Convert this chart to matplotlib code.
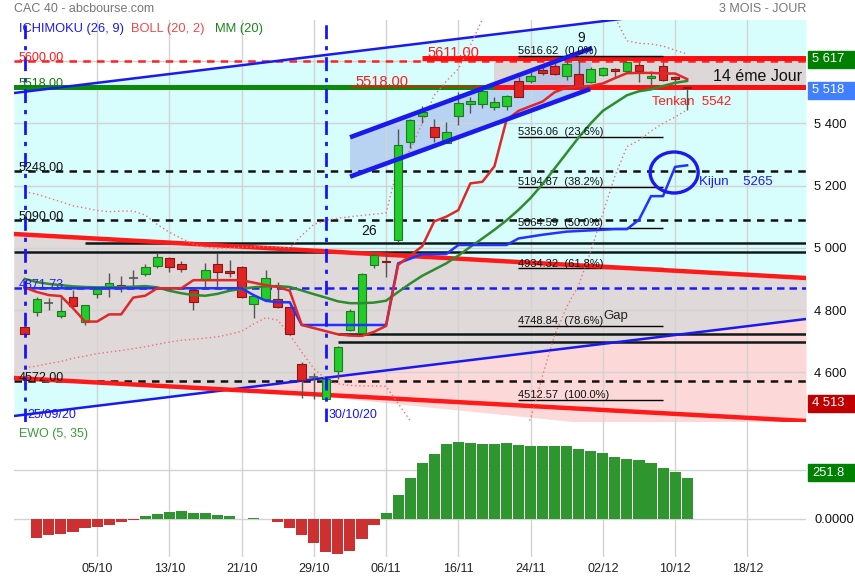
import numpy as np
import matplotlib
matplotlib.use("Agg")
import matplotlib.pyplot as plt
from matplotlib.patches import Ellipse, Rectangle

plt.rcParams['font.family'] = ['Liberation Sans', 'DejaVu Sans']

# ---------------- data ----------------
opens = [4745, 4795, 4823, 4782, 4841, 4761, 4852, 4873, 4880, 4902,
         4916, 4942, 4967, 4948, 4864, 4899, 4947, 4924, 4937, 4820,
         4834, 4834, 4809, 4626, 4585, 4515, 4605, 4735, 4727, 4945,
         4956, 5025, 5341, 5424, 5387, 5338, 5424, 5461, 5461, 5451,
         5456, 5536, 5537, 5571, 5584, 5552, 5557, 5534, 5555, 5574,
         5568, 5587, 5545, 5584, 5550, 5518]
highs = [4748, 4843, 4840, 4843, 4864, 4815, 4875, 4918, 4909, 4929,
         4948, 4984, 4970, 4958, 4875, 4950, 4984, 4961, 4940, 4847,
         4929, 4889, 4812, 4634, 4597, 4580, 4684, 4802, 4920, 4982,
         4982, 5381, 5414, 5456, 5414, 5403, 5502, 5486, 5510, 5486,
         5490, 5550, 5566, 5582, 5593, 5603, 5616.62, 5580, 5582, 5579,
         5598, 5596, 5568, 5596, 5553, 5520]
lows = [4720, 4782, 4800, 4775, 4812, 4752, 4838, 4843, 4859, 4872,
        4909, 4936, 4923, 4923, 4800, 4875, 4875, 4907, 4840, 4775,
        4832, 4806, 4720, 4516, 4513, 4512.57, 4578, 4733, 4725, 4934,
        4907, 5018, 5322, 5400, 5341, 5336, 5395, 5434, 5448, 5443,
        5443, 5484, 5529, 5555, 5555, 5539, 5515, 5530, 5552, 5550,
        5565, 5532, 5518, 5535, 5518, 5442]
closes = [4722, 4835, 4823, 4796, 4814, 4815, 4868, 4886, 4872, 4902,
          4937, 4970, 4939, 4933, 4827, 4928, 4921, 4920, 4843, 4845,
          4902, 4809, 4722, 4575, 4585, 4578, 4682, 4796, 4916, 4977,
          4954, 5330, 5411, 5437, 5355, 5371, 5464, 5473, 5504, 5468,
          5488, 5486, 5552, 5563, 5557, 5591, 5518, 5574, 5577, 5568,
          5596, 5568, 5553, 5539, 5541, 5515]

tenkan = [4872, 4858, 4848, 4845, 4806, 4763, 4763, 4786, 4786, 4840,
          4846, 4870, 4870, 4870, 4896, 4896, 4896, 4896, 4896, 4888,
          4880, 4874, 4862, 4752, 4742, 4732, 4722, 4718, 4717, 4730,
          4749, 4945, 4975, 5005, 5085, 5100, 5121, 5207, 5212, 5262,
          5411, 5440, 5455, 5470, 5500, 5515, 5518, 5520, 5528, 5545,
          5561, 5562, 5562, 5560, 5560, 5542]
kijun = [4870, 4870, 4870, 4870, 4870, 4870, 4870, 4870, 4870, 4870,
         4870, 4870, 4870, 4870, 4870, 4870, 4870, 4870, 4870, 4848,
         4830, 4825, 4825, 4752, 4752, 4752, 4752, 4752, 4752, 4752,
         4752, 4950, 4965, 4980, 4980, 4980, 5009, 5009, 5009, 5009,
         5009, 5030, 5036, 5042, 5047, 5052, 5054, 5056, 5058, 5060,
         5060, 5090, 5166, 5166, 5260, 5265]
mm20 = [4900, 4890, 4884, 4880, 4876, 4874, 4873, 4873, 4874, 4875,
        4877, 4873, 4862, 4854, 4848, 4846, 4852, 4862, 4868, 4873,
        4876, 4877, 4874, 4863, 4851, 4840, 4828, 4822, 4822, 4824,
        4830, 4858, 4885, 4910, 4930, 4950, 4975, 5003, 5030, 5058,
        5088, 5122, 5160, 5205, 5255, 5305, 5355, 5400, 5440, 5465,
        5490, 5503, 5509, 5520, 5530, 5536]
boll_up = [5180, 5172, 5160, 5148, 5135, 5128, 5120, 5116, 5118, 5118,
           5105, 5075, 5050, 5030, 5012, 5002, 4998, 5000, 5002, 5003,
           5003, 5002, 5000, 5040, 5075, 5088, 5095, 5100, 5104, 5108,
           5112, 5265, 5314, 5400, 5490, 5535, 5575, 5650, 5735, 5790,
           5830, 5850, 5860, 5860, 5850, 5830, 5800, 5780, 5760, 5740,
           5665, 5657, 5655, 5648, 5635, 5622]
boll_dn = [4615, 4620, 4628, 4635, 4645, 4652, 4660, 4665, 4670, 4676,
           4682, 4690, 4697, 4703, 4706, 4710, 4714, 4722, 4732, 4755,
           4775, 4768, 4720, 4665, 4612, 4578, 4563, 4558, 4556, 4556,
           4555, 4500, 4445, 4390, 4340, 4300, 4270, 4250, 4250, 4270,
           4330, 4400, 4450, 4590, 4720, 4810, 4880, 4990, 5110, 5230,
           5325, 5345, 5375, 5400, 5420, 5443]
ewo = [np.nan, -115, -98, -90, -80, -55, -49, -35, -16, -4,
       18, 31, 43, 49, 37, 37, 25, 18, 0, 6,
       0, -16, -53, -96, -145, -200, -215, -196, -121, -35,
       37, 147, 252, 340, 401, 460, 473, 467, 460, 460,
       467, 456, 450, 444, 444, 444, 430, 418, 405, 381,
       368, 362, 340, 313, 289, 251.8]

tick_pos = [6, 12, 18, 24, 30, 36, 42, 48, 54, 60]
tick_labels = ['05/10', '13/10', '21/10', '29/10', '06/11',
               '16/11', '24/11', '02/12', '10/12', '18/12']
price_ticks = [4600, 4800, 5000, 5200, 5400]
price_tick_labels = ['4 600', '4 800', '5 000', '5 200', '5 400']

fib_levels = [5616.62, 5356.06, 5194.87, 5064.59, 4934.32, 4748.84, 4512.57]
fib_pcts = ['0.0%', '23.6%', '38.2%', '50.0%', '61.8%', '78.6%', '100.0%']

# ---------------- geometry helpers (pixel -> data, for annotations) ----
W, H = 855, 580
X_MIN, X_MAX = -0.897, 64.87
Y_MIN, Y_MAX = 4440.3, 5731.9


def px2x(px):
    return (px - 24.8) / 12.04


def py2p(py):
    return 5000 + (247.8 - py) / 0.31125


def fx(px):
    return px / W


def fy(py):
    return 1 - py / H


fig = plt.figure(figsize=(8.55, 5.8), dpi=100)
ax = fig.add_axes([fx(14), fy(422), (806 - 14) / W, (422 - 20) / H])
ax2 = fig.add_axes([fx(14), fy(557), (806 - 14) / W, (557 - 422) / H])

ax.set_xlim(X_MIN, X_MAX)
ax.set_ylim(Y_MIN, Y_MAX)
for a in (ax, ax2):
    for s in a.spines.values():
        s.set_visible(False)

# ---------------- channels / fills ----------------
blue_up = [(X_MIN, py2p(93)), (X_MAX, py2p(-3.6))]
blue_lo = [(X_MIN, py2p(416)), (X_MAX, py2p(319))]
red_up = [(X_MIN, py2p(234)), (X_MAX, py2p(278))]
red_lo = [(X_MIN, py2p(378)), (X_MAX, py2p(421))]
pink_floor = [(px2x(300), py2p(394)), (X_MAX, py2p(445))]


def line_y(pts, x):
    (x0, y0), (x1, y1) = pts
    return y0 + (y1 - y0) * (x - x0) / (x1 - x0)


xs = np.linspace(X_MIN, X_MAX, 1500)
bu, bl = line_y(blue_up, xs), line_y(blue_lo, xs)
ru, rl = line_y(red_up, xs), line_y(red_lo, xs)
fl = line_y(pink_floor, xs)
CYAN, PINK, GRAY = '#d7fdfd', '#fcd8d8', '#e0d9d9'
ax.fill_between(xs, bl, bu, color=CYAN, lw=0, zorder=0)
ax.fill_between(xs, rl, ru, color=PINK, lw=0, zorder=0.1)
ov_lo, ov_hi = np.maximum(bl, rl), np.minimum(bu, ru)
ax.fill_between(xs, ov_lo, ov_hi, where=ov_hi > ov_lo, interpolate=True,
                color=GRAY, lw=0, zorder=0.2)
xcross = xs[np.argmin(np.abs(bl - rl))]
ax.fill_between(xs, fl, rl, where=(xs > xcross) & (fl < rl), interpolate=True,
                color=PINK, lw=0, zorder=0.1)

# gray box 5518-5611
ax.fill_between([px2x(494), X_MAX], 5518, 5611, color='#ddd7d7', lw=0, zorder=0.3)

# small rising channel
sc_up = [(px2x(350), py2p(137.3)), (px2x(592), py2p(48))]
sc_lo = [(px2x(350), py2p(176.7)), (px2x(590), py2p(89))]
ax.fill([sc_up[0][0], sc_up[1][0], sc_lo[1][0], sc_lo[0][0]],
        [sc_up[0][1], sc_up[1][1], sc_lo[1][1], sc_lo[0][1]],
        color='#a4b8ea', alpha=0.6, lw=0, zorder=0.4)

# ---------------- grid ----------------
GRID = '#d3d3d3'
for t in tick_pos:
    ax.axvline(t, color=GRID, lw=1, zorder=0.5)
    ax2.axvline(t, color=GRID, lw=1, zorder=0.5)
for p in price_ticks + [5600]:
    ax.axhline(p, color=GRID, lw=1, zorder=0.5)

# ---------------- horizontal levels ----------------
ax.axhline(5600, color='#ff2020', lw=1.8, ls=(0, (3, 2.5)), zorder=2)
ax.axhline(5518, color='#0b8a0b', lw=3.6, zorder=2)
for lvl in (5248, 5090, 4572):
    ax.axhline(lvl, color='#111111', lw=1.8, ls=(0, (3, 2.5)), zorder=2)
ax.axhline(4871.73, color='#1a1aff', lw=1.8, ls=(0, (3, 2)), zorder=2)
ax.hlines(5611, px2x(422), X_MAX, color='#ff1010', lw=3.6, zorder=2.5)
ax.hlines(5518, px2x(494), X_MAX, color='#ff1010', lw=3.6, zorder=2.5)
ax.hlines(5520, px2x(350), px2x(494), color='#ff1010', lw=1, zorder=2.5)

DARK = '#0d1a1a'
ax.hlines(py2p(242.7), px2x(85), X_MAX, color=DARK, lw=1.8, zorder=2)
ax.hlines(py2p(251.7), X_MIN, X_MAX, color=DARK, lw=1.8, zorder=2)
ax.hlines(py2p(334), px2x(338), X_MAX, color=DARK, lw=1.8, zorder=2)
ax.hlines(py2p(341.7), px2x(338), X_MAX, color=DARK, lw=1.8, zorder=2)

# fib lines
for lvl, pct in zip(fib_levels, fib_pcts):
    ax.hlines(lvl, px2x(518), px2x(663), color='black', lw=1, zorder=2.6)
    ax.annotate(f'{lvl:.2f}  ({pct})', (px2x(518), lvl), xytext=(0, 1.2),
                textcoords='offset points', fontsize=8, color='#111111',
                va='baseline', ha='left', zorder=9)

# trend lines
for pts in (blue_up, blue_lo):
    ax.plot([pts[0][0], pts[1][0]], [pts[0][1], pts[1][1]], color='#1a1aee', lw=1.8, zorder=3)
for pts in (red_up, red_lo):
    ax.plot([pts[0][0], pts[1][0]], [pts[0][1], pts[1][1]], color='#ff1a1a', lw=3.2, zorder=3)

# ---------------- candles ----------------
idx = np.arange(len(opens))
o, c = np.array(opens, float), np.array(closes, float)
up, dn, flat = c > o, c < o, c == o
ax.vlines(idx, lows, highs, color='#555555', lw=1, zorder=4)
ax.bar(idx[up], (c - o)[up], bottom=o[up], width=0.72, color='#22cc2a',
       edgecolor='#1f7a1f', lw=0.8, zorder=5)
ax.bar(idx[dn], (c - o)[dn], bottom=o[dn], width=0.72, color='#e02424',
       edgecolor='#8b1414', lw=0.8, zorder=5)
ax.hlines(c[flat], idx[flat] - 0.38, idx[flat] + 0.38, color='#555555', lw=1.2, zorder=5)

# ---------------- indicators ----------------
ax.plot(idx, boll_up, color='#f07070', lw=1, ls=(0, (1, 2)), zorder=3.5)
ax.plot(idx, boll_dn, color='#f07070', lw=1, ls=(0, (1, 2)), zorder=3.5)
ax.plot(idx, mm20, color='#2e8b2e', lw=1.8, zorder=6)
ax.plot(idx, kijun, color='#2233ff', lw=1.8, zorder=6)
ax.plot(idx, tenkan, color='#e02828', lw=1.8, zorder=6.1)

# small channel thick lines
for pts in (sc_up, sc_lo):
    ax.plot([pts[0][0], pts[1][0]], [pts[0][1], pts[1][1]], color='#1a1aee', lw=3.3,
            zorder=7, solid_capstyle='butt')

# ellipse around kijun end
ax.add_patch(Ellipse((px2x(674), py2p(172.5)), 48 / 12.04, 41 / 0.31125,
                     fill=False, ec='#1a1aee', lw=2.4, zorder=7))

# vertical dash-dot lines
for vi, lab in ((0, '25/09/20'), (25, '30/10/20')):
    ax.axvline(vi, color='#1515ff', lw=2, ls=(0, (5, 2.5, 1.5, 2.5)), zorder=8)
    ax.annotate(lab, (vi, py2p(415)), xytext=(2, 0), textcoords='offset points',
                color='#1515ff', fontsize=9, va='center', ha='left', zorder=9)

# ---------------- labels on chart ----------------
yt = ax.get_yaxis_transform()
for lvl, txt, col in ((5600, '5600.00', '#ff1a1a'), (5518, '5518.00', '#0b7a0b'),
                      (5248, '5248.00', '#111111'), (5090, '5090.00', '#111111'),
                      (4871.73, '4871.73', '#2222ee'), (4572, '4572.00', '#111111')):
    ax.text(0.006, lvl, txt, transform=yt, color=col, fontsize=9, va='baseline',
            ha='left', zorder=9)

ax.text(px2x(427), 5612, '5611.00', color='#ff1a1a', fontsize=10.5, va='baseline', zorder=9)
ax.text(px2x(355), 5521, '5518.00', color='#ff1a1a', fontsize=10.5, va='baseline', zorder=9)
ax.text(px2x(581), py2p(38), '9', color='#111111', fontsize=10, ha='center', va='center', zorder=9)
ax.text(px2x(368.5), py2p(231.5), '26', color='#111111', fontsize=10, ha='center', va='center', zorder=9)
ax.text(px2x(603), py2p(316), 'Gap', color='#222222', fontsize=9.5, ha='left', va='center', zorder=9)
ax.text(px2x(713), py2p(76), '14 éme Jour', color='#111111', fontsize=11.5, ha='left', va='center', zorder=9)
ax.text(px2x(652), py2p(102), 'Tenkan  5542', color='#ff1a1a', fontsize=9.5, ha='left', va='center', zorder=9)
ax.text(px2x(699), py2p(182), 'Kijun    5265', color='#1a1aee', fontsize=9.5, ha='left', va='center', zorder=9)

# ---------------- axes ticks ----------------
ax.set_xticks([])
ax.yaxis.tick_right()
ax.set_yticks(price_ticks)
ax.set_yticklabels(price_tick_labels)
ax.tick_params(axis='y', length=0, pad=6, labelsize=9.3, colors='#111111')

# ---------------- EWO panel ----------------
ewo_arr = np.array(ewo, float)
ax2.set_xlim(X_MIN, X_MAX)
ax2.set_ylim(-233, 594)
ax2.axhline(0, color=GRID, lw=1, zorder=0.5)
ax2.axhline(300, color=GRID, lw=1, zorder=0.5)
cols = ['#2f962f' if v >= 0 else '#cc3030' for v in np.nan_to_num(ewo_arr)]
ax2.bar(idx, np.nan_to_num(ewo_arr), width=0.92, color=cols, zorder=2)
ax2.set_xticks(tick_pos)
ax2.set_xticklabels(tick_labels)
ax2.yaxis.tick_right()
ax2.set_yticks([0])
ax2.set_yticklabels(['0.0000'])
ax2.tick_params(axis='y', length=0, pad=6, labelsize=9.3, colors='#111111')
ax2.tick_params(axis='x', length=0, pad=4, labelsize=9, colors='#222222')
fig.text(fx(19), fy(434), 'EWO (5, 35)', color='#3a9a3a', fontsize=9, va='center', ha='left')

# ---------------- header ----------------
fig.text(fx(14), fy(9), 'CAC 40 - abcbourse.com', color='#777777', fontsize=9, va='center', ha='left')
fig.text(fx(806), fy(9), '3 MOIS - JOUR', color='#777777', fontsize=9, va='center', ha='right')
fig.text(fx(19), fy(29), 'ICHIMOKU (26, 9)', color='#1a1aee', fontsize=9.3, va='center', ha='left')
fig.text(fx(131), fy(29), 'BOLL (20, 2)', color='#f04848', fontsize=9.3, va='center', ha='left')
fig.text(fx(215), fy(29), 'MM (20)', color='#168816', fontsize=9.3, va='center', ha='left')

# ---------------- right value boxes ----------------
for cy, txt, col in ((59.5, '5 617', '#008000'), (90, '5 518', '#4080ff'),
                     (403, '4 513', '#c00000'), (472.5, '251.8', '#008000')):
    fig.patches.append(Rectangle((fx(808), fy(cy + 8.5)), 47 / W, 17 / H,
                                 transform=fig.transFigure, color=col, zorder=5))
    fig.text(fx(812), fy(cy), txt, color='white', fontsize=9.3, va='center',
             ha='left', zorder=6)

fig.savefig('out.png', dpi=100, facecolor='white')
